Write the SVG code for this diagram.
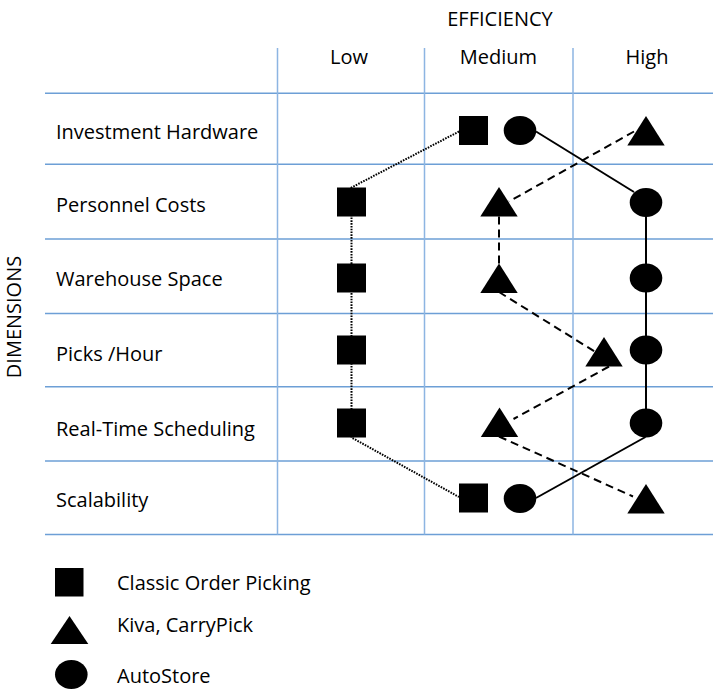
<svg xmlns="http://www.w3.org/2000/svg" width="713" height="689" viewBox="0 0 713 689">
<style>
text{font-family:"Open Sans","Liberation Sans",sans-serif;font-size:20px;fill:#000}
.c{text-anchor:middle}
.h{stroke:#6d9fd6;stroke-width:1.5}
.v{stroke:#8db5e2;stroke-width:1.5}
.m{fill:#000}
.dot{fill:none;stroke:#000;stroke-width:2;stroke-dasharray:1.6 1.2}
.sol{fill:none;stroke:#000;stroke-width:2}
.dash{fill:none;stroke:#000;stroke-width:2;stroke-dasharray:8 5}
</style>
<defs>
<rect id="sq" x="-14.5" y="-14.5" width="29" height="29" class="m"/>
<ellipse id="ci" rx="16.3" ry="14.5" class="m"/>
<polygon id="tr" points="0,-15 18.7,14.5 -18.7,14.5" class="m"/>
</defs>
<g id="grid">
<line class="h" x1="45" y1="93.3" x2="713" y2="93.3"/>
<line class="h" x1="45" y1="164.3" x2="713" y2="164.3"/>
<line class="h" x1="45" y1="239" x2="713" y2="239"/>
<line class="h" x1="45" y1="313.5" x2="713" y2="313.5"/>
<line class="h" x1="45" y1="386.7" x2="713" y2="386.7"/>
<line class="h" x1="45" y1="461" x2="713" y2="461"/>
<line class="h" x1="45" y1="534.5" x2="713" y2="534.5"/>
<line class="v" x1="277.5" y1="48" x2="277.5" y2="534.5"/>
<line class="v" x1="424.5" y1="48" x2="424.5" y2="534.5"/>
<line class="v" x1="573" y1="48" x2="573" y2="534.5"/>
</g>
<g id="labels">
<text class="c" x="500" y="25.5">EFFICIENCY</text>
<text class="c" x="349" y="64">Low</text>
<text class="c" x="498.5" y="64">Medium</text>
<text class="c" x="647" y="64">High</text>
<text class="c" transform="translate(21,317) rotate(-90)">DIMENSIONS</text>
<text x="56" y="139">Investment Hardware</text>
<text x="56" y="212">Personnel Costs</text>
<text x="56" y="286">Warehouse Space</text>
<text x="56" y="361">Picks /Hour</text>
<text x="56" y="436">Real-Time Scheduling</text>
<text x="56" y="507">Scalability</text>
</g>
<g id="connectors">
<polyline class="dot" points="459,131.5 351.5,187.5 351.5,409 351.5,437.5 459,497"/>
<polyline class="sol" points="536,131.5 634,192"/>
<line class="sol" x1="646" y1="202" x2="646" y2="423"/>
<polyline class="sol" points="645.5,437 536,498"/>
<polyline class="dash" points="634,131.5 509,201.5"/>
<line class="dash" x1="499" y1="216.5" x2="499" y2="265"/>
<polyline class="dash" points="499,292 597,353"/>
<polyline class="dash" points="609,366.5 513.5,419"/>
<polyline class="dash" points="499,436.5 633,496.5"/>
</g>
<g id="classic-order-picking">
<use href="#sq" x="473.5" y="130.5"/>
<use href="#sq" x="351.5" y="202"/>
<use href="#sq" x="351.5" y="278"/>
<use href="#sq" x="351.5" y="350"/>
<use href="#sq" x="351.5" y="423"/>
<use href="#sq" x="473.5" y="498"/>
</g>
<g id="autostore">
<use href="#ci" x="520" y="130.5"/>
<use href="#ci" x="646" y="202.5"/>
<use href="#ci" x="646" y="278"/>
<use href="#ci" x="646" y="350"/>
<use href="#ci" x="646" y="423"/>
<use href="#ci" x="520" y="498.5"/>
</g>
<g id="kiva-carrypick">
<use href="#tr" x="646" y="131"/>
<use href="#tr" x="499" y="202"/>
<use href="#tr" x="499" y="278.5"/>
<use href="#tr" x="604" y="352"/>
<use href="#tr" x="499.5" y="422.5"/>
<use href="#tr" x="646" y="499"/>
</g>
<g id="legend">
<rect x="55" y="568" width="28.5" height="28.5" class="m"/>
<text x="117" y="589.5">Classic Order Picking</text>
<polygon points="69.5,616 88.3,644 50.7,644" class="m"/>
<text x="117" y="632">Kiva, CarryPick</text>
<ellipse cx="71.3" cy="674.5" rx="16.3" ry="14.5" class="m"/>
<text x="117" y="683">AutoStore</text>
</g>
</svg>
